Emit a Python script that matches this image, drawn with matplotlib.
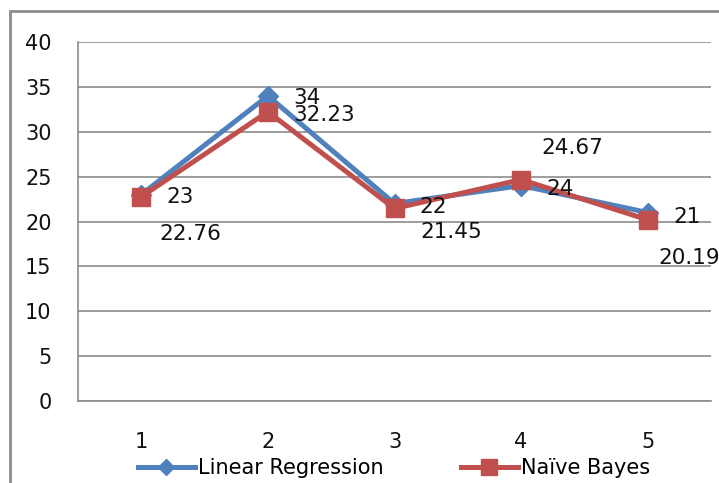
import matplotlib.pyplot as plt
from matplotlib.patches import Rectangle

plt.rcParams['font.family'] = ['DejaVu Sans']

categories = [1, 2, 3, 4, 5]
linear_regression = [23, 34, 22, 24, 21]
naive_bayes = [22.76, 32.23, 21.45, 24.67, 20.19]

# label offsets in points (dx, dy) for each point
lr_offsets = [(18, -1.4), (18, -1.2), (17.9, -2.2), (18.4, -2.3), (18.4, -2.9)]
nb_offsets = [(12.7, -26.5), (18, -2), (18.9, -16.6), (14.8, 22.6), (7.6, -27.6)]

blue = '#4F81BD'
red = '#C0504D'
grid_col = '#8C8C8C'

fig = plt.figure(figsize=(7.19, 4.83), dpi=100)
ax = fig.add_axes([78 / 719, 82 / 483, 633 / 719, 359 / 483])

fig.patches.append(Rectangle((10 / 719, -0.1), 1.2, 0.1 + 472 / 483,
                             transform=fig.transFigure, fill=False,
                             edgecolor='#8C8C8C', lw=2, zorder=0))

ax.plot(categories, linear_regression, color=blue, lw=3.6, marker='D',
        markersize=10, label='Linear Regression', zorder=3)
ax.plot(categories, naive_bayes, color=red, lw=3.6, marker='s',
        markersize=13.5, label='Naïve Bayes', zorder=4)

for x, y, (dx, dy) in zip(categories, linear_regression, lr_offsets):
    ax.annotate(f'{y:g}', (x, y), xytext=(dx, dy), textcoords='offset points',
                fontsize=15.5, va='center', ha='left', color='#111111', zorder=5)
for x, y, (dx, dy) in zip(categories, naive_bayes, nb_offsets):
    ax.annotate(f'{y:.2f}', (x, y), xytext=(dx, dy), textcoords='offset points',
                fontsize=15.5, va='center', ha='left', color='#111111', zorder=5)

ax.set_xlim(0.5, 5.5)
ax.set_ylim(0, 40)
ax.set_yticks(range(0, 41, 5))
ax.set_xticks(categories)
ax.grid(axis='y', color=grid_col, lw=1.2)
ax.set_axisbelow(True)
ax.tick_params(length=0, labelsize=15, colors='#111111')
ax.tick_params(axis='y', pad=19)
ax.tick_params(axis='x', pad=22)
for s in ['top', 'right']:
    ax.spines[s].set_visible(False)
for s in ['left', 'bottom']:
    ax.spines[s].set_color(grid_col)
    ax.spines[s].set_linewidth(1.2)

leg = fig.legend(loc='center', bbox_to_anchor=(394 / 719, 1 - 468 / 483), ncol=2,
                 frameon=False, fontsize=15, handlelength=2.74, handletextpad=0.15,
                 columnspacing=3.7, borderaxespad=0, borderpad=0, markerscale=0.85)

fig.savefig('out.png', dpi=100)
